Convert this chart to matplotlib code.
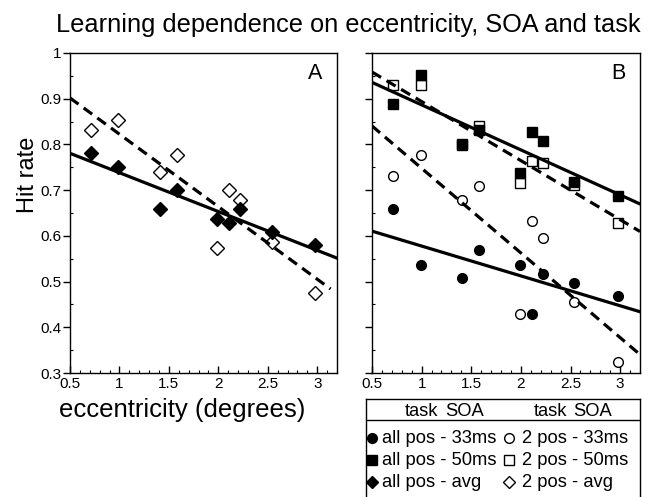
import numpy as np
import matplotlib
matplotlib.use('Agg')
import matplotlib.pyplot as plt
from matplotlib.ticker import MultipleLocator

plt.rcParams['font.family'] = ['Liberation Sans', 'DejaVu Sans']

# eccentricity of the tested positions (degrees)
ecc = [0.71, 0.99, 1.41, 1.58, 1.99, 2.11, 2.22, 2.54, 2.98]

# panel A: averaged over SOA
allpos_avg = [0.781, 0.750, 0.659, 0.700, 0.637, 0.628, 0.659, 0.608, 0.581]
twopos_avg = [0.831, 0.853, 0.739, 0.777, 0.573, 0.700, 0.679, 0.586, 0.475]

# panel B: split by SOA
allpos_33 = [0.658, 0.537, 0.508, 0.568, 0.536, 0.428, 0.517, 0.496, 0.468]
twopos_33 = [0.732, 0.776, 0.679, 0.710, 0.429, 0.632, 0.596, 0.456, 0.323]
allpos_50 = [0.889, 0.951, 0.798, 0.831, 0.738, 0.827, 0.807, 0.718, 0.687]
twopos_50 = [0.929, 0.929, 0.800, 0.840, 0.716, 0.763, 0.760, 0.712, 0.628]

# regression lines (intercept, slope)
fit_allpos_avg = (0.823, -0.0849)
fit_twopos_avg = (0.981, -0.1586)
fit_allpos_33 = (0.643, -0.0653)
fit_twopos_33 = (0.933, -0.1852)
fit_allpos_50 = (0.985, -0.0985)
fit_twopos_50 = (1.023, -0.1292)

W, H = 649, 497
fig = plt.figure(figsize=(W / 100, H / 100), dpi=100)

def px_axes(x0, y0, x1, y1):
    return fig.add_axes([x0 / W, 1 - y1 / H, (x1 - x0) / W, (y1 - y0) / H])

axA = px_axes(70, 53, 337, 373)
axB = px_axes(372, 53, 640, 373)

xs = np.array([0.5, 3.2])
dash = (3.3, 2.0)

def fit_line(ax, fit, dashed, x_end=3.2):
    b, m = fit
    x = np.array([0.5, x_end])
    ln, = ax.plot(x, b + m * x, color='black', lw=2.3, zorder=4)
    if dashed:
        ln.set_dashes(dash)

mk = dict(ms=7, mec='black', mew=1.0, ls='none', zorder=3)

# panel A
axA.plot(ecc, twopos_avg, marker='D', mfc='white', **mk)
axA.plot(ecc, allpos_avg, marker='D', mfc='black', **mk)
fit_line(axA, fit_allpos_avg, False)
fit_line(axA, fit_twopos_avg, True, x_end=3.135)

# panel B
axB.plot(ecc, twopos_33, marker='o', mfc='white', **mk)
axB.plot(ecc, allpos_33, marker='o', mfc='black', **mk)
axB.plot(ecc, twopos_50, marker='s', mfc='white', **mk)
axB.plot(ecc, allpos_50, marker='s', mfc='black', **mk)
fit_line(axB, fit_allpos_33, False)
fit_line(axB, fit_twopos_33, True)
fit_line(axB, fit_allpos_50, False)
fit_line(axB, fit_twopos_50, True)

for ax, lab in [(axA, 'A'), (axB, 'B')]:
    ax.set_xlim(0.5, 3.2)
    ax.set_ylim(0.3, 1.0)
    ax.xaxis.set_major_locator(MultipleLocator(0.5))
    ax.xaxis.set_minor_locator(MultipleLocator(0.1))
    ax.yaxis.set_major_locator(MultipleLocator(0.1))
    ax.yaxis.set_minor_locator(MultipleLocator(0.05))
    ax.tick_params(axis='x', which='major', direction='in', length=5, width=1, labelsize=11, pad=3)
    ax.tick_params(axis='x', which='minor', direction='in', length=2.5, width=0.8)
    ax.tick_params(axis='y', which='major', direction='out', length=5, width=1, labelsize=11, pad=1)
    ax.tick_params(axis='y', which='minor', direction='in', length=2.5, width=0.8)
    ax.set_xticks(np.arange(0.5, 3.01, 0.5))
    ax.set_xticklabels(['0.5', '1', '1.5', '2', '2.5', '3'])
    for s in ax.spines.values():
        s.set_linewidth(1.0)
    ax.text(0.945, 0.935, lab, transform=ax.transAxes, fontsize=15.5,
            ha='right', va='center')

axA.set_yticks(np.arange(0.3, 1.01, 0.1))
axA.set_yticklabels(['0.3', '0.4', '0.5', '0.6', '0.7', '0.8', '0.9', '1'])
axB.set_yticklabels([])

fig.text(182 / W, 1 - 410 / H, 'eccentricity (degrees)', fontsize=18.5,
         ha='center', va='center')
fig.text(28 / W, 1 - 175 / H, 'Hit rate', fontsize=17, rotation=90,
         ha='center', va='center')

fig.text(348 / W, 1 - 32 / H, 'Learning dependence on eccentricity, SOA and task',
         fontsize=18.3, ha='center', va='baseline')

# key box under panel B
lg = px_axes(366, 399, 640, 505)
lg.set_xlim(0, 274)
lg.set_ylim(106, 0)
lg.set_xticks([])
lg.set_yticks([])
lg.spines['bottom'].set_visible(False)
for s in lg.spines.values():
    s.set_linewidth(1.0)
lg.axhline(21, color='black', lw=1.0)

fs = 13.2
for cx, t in [(56, 'task'), (99, 'SOA'), (185, 'task'), (227, 'SOA')]:
    lg.text(cx, 12, t, fontsize=fs, ha='center', va='center')

rows = [('o', 'all pos - 33ms', '2 pos - 33ms'),
        ('s', 'all pos - 50ms', '2 pos - 50ms'),
        ('D', 'all pos - avg', '2 pos - avg')]
for i, (m, t1, t2) in enumerate(rows):
    y = 39 + 22 * i
    size = 6 if m == 'D' else 7
    lg.plot([6], [y], marker=m, mfc='black', mec='black', ms=size, ls='none')
    lg.text(16, y, t1, fontsize=fs, ha='left', va='center')
    lg.plot([143], [y], marker=m, mfc='white', mec='black', mew=1.0, ms=size, ls='none')
    lg.text(156, y, t2, fontsize=fs, ha='left', va='center')

fig.savefig('out.png', dpi=100)
